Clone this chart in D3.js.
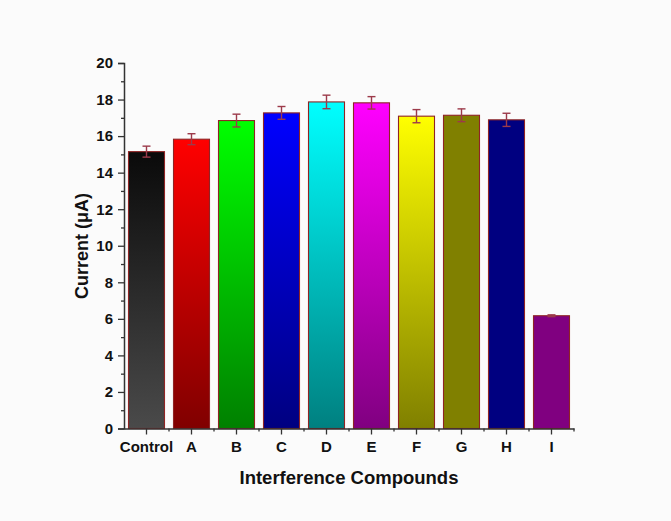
<!DOCTYPE html>
<html><head><meta charset="utf-8">
<script src="https://cdn.jsdelivr.net/npm/d3@7"></script>
<style>
html,body{margin:0;padding:0;background:#fbfbfb;}
svg{display:block;}
text{font-family:"Liberation Sans",Arial,sans-serif;font-weight:bold;fill:#111;}
</style></head>
<body>
<svg id="chart" width="671" height="521"></svg>
<script>
const categories = ["Control","A","B","C","D","E","F","G","H","I"];
const currents   = [15.15, 15.83, 16.85, 17.27, 17.87, 17.82, 17.09, 17.14, 16.89, 6.17];
const errors     = [0.30, 0.30, 0.35, 0.35, 0.37, 0.34, 0.36, 0.35, 0.36, 0.05];
const topColors    = ["#0a0a0a","#ff0000","#00ff00","#0000ff","#00ffff","#ff00ff","#ffff00","#808000","#000080","#800080"];
const bottomColors = ["#4a4a4a","#800000","#008000","#000080","#008080","#800080","#808000","#808000","#000080","#800080"];
const yMajorTicks = [0,2,4,6,8,10,12,14,16,18,20];
const yMinorTicks = [1,3,5,7,9,11,13,15,17,19];

const svg = d3.select("#chart");
const x = d3.scaleBand().domain(categories).range([124, 574]).paddingInner(0.2).paddingOuter(0.1);
const y = d3.scaleLinear().domain([0, 20]).range([428.5, 63]);

const defs = svg.append("defs");
categories.forEach((c, i) => {
  const g = defs.append("linearGradient").attr("id", "grad" + i)
    .attr("x1", 0).attr("y1", 0).attr("x2", 0).attr("y2", 1);
  g.append("stop").attr("offset", "0%").attr("stop-color", topColors[i]);
  g.append("stop").attr("offset", "100%").attr("stop-color", bottomColors[i]);
});

// bars
svg.append("g").selectAll("rect").data(categories).join("rect")
  .attr("x", d => x(d))
  .attr("y", (d, i) => y(currents[i]))
  .attr("width", x.bandwidth())
  .attr("height", (d, i) => y(0) - y(currents[i]))
  .attr("fill", (d, i) => "url(#grad" + i + ")")
  .attr("stroke", "#8f2424")
  .attr("stroke-width", 1.1);

// error bars
const eb = svg.append("g").attr("stroke", "#9c3a4a").attr("stroke-width", 1.4).attr("fill", "none");
categories.forEach((c, i) => {
  const cx = x(c) + x.bandwidth() / 2;
  const y1 = y(currents[i] + errors[i]), y2 = y(currents[i] - errors[i]);
  eb.append("line").attr("x1", cx).attr("x2", cx).attr("y1", y1).attr("y2", y2);
  eb.append("line").attr("x1", cx - 4).attr("x2", cx + 4).attr("y1", y1).attr("y2", y1);
  eb.append("line").attr("x1", cx - 4).attr("x2", cx + 4).attr("y1", y2).attr("y2", y2);
});

// y axis
svg.append("g").attr("transform", "translate(124,0)")
  .call(d3.axisLeft(y).tickValues(yMajorTicks).tickSize(6).tickPadding(5));
svg.append("g").attr("transform", "translate(124,0)")
  .call(d3.axisLeft(y).tickValues(yMinorTicks).tickSize(3).tickFormat(""))
  .call(g => g.select(".domain").remove());

// x axis
svg.append("g").attr("transform", "translate(0,428.5)")
  .call(d3.axisBottom(x).tickSize(6).tickPadding(7).tickSizeOuter(0));
const boundaries = categories.map(c => x(c) - x.step() * x.paddingInner() / 2).slice(1).concat([574]);
const xMinor = svg.append("g").attr("transform", "translate(0,428.5)");
xMinor.selectAll("line").data(boundaries).join("line")
  .attr("x1", d => d).attr("x2", d => d).attr("y1", 0).attr("y2", 3)
  .attr("stroke", "#333").attr("stroke-width", 1.3);

svg.selectAll(".domain").attr("stroke", "#333").attr("stroke-width", 1.5);
svg.selectAll(".tick line").attr("stroke", "#333").attr("stroke-width", 1.3);
svg.selectAll(".tick text").style("font-family", "'Liberation Sans', Arial, sans-serif")
  .style("font-weight", "bold").style("font-size", "15px").attr("fill", "#111");

// axis titles
svg.append("text").attr("x", 349).attr("y", 484).attr("text-anchor", "middle")
  .style("font-size", "18.5px").text("Interference Compounds");
svg.append("text").attr("transform", "translate(88,246) rotate(-90)").attr("text-anchor", "middle")
  .style("font-size", "18px").text("Current (μA)");
</script>
</body></html>
